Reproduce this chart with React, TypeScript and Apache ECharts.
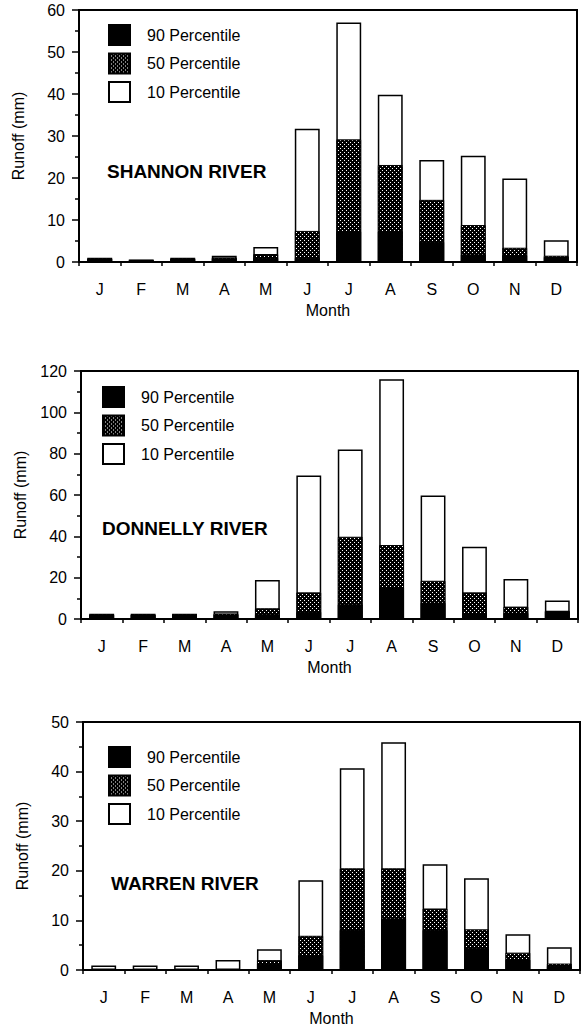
import React, { useEffect, useRef } from "react";
import * as echarts from "echarts";

const months = ["J", "F", "M", "A", "M", "J", "J", "A", "S", "O", "N", "D"];
const legendNames = ["90 Percentile", "50 Percentile", "10 Percentile"];

// Shannon River
const shannonP10 = [1.0, 0.6, 1.0, 1.5, 3.6, 31.7, 57.0, 39.8, 24.3, 25.3, 19.9, 5.2];
const shannonP50 = [0.9, 0.5, 0.9, 1.1, 1.9, 7.4, 29.2, 23.1, 14.8, 8.8, 3.4, 1.5];
const shannonP90 = [0.8, 0.45, 0.8, 0.9, 1.0, 1.0, 7.3, 7.3, 4.8, 1.8, 1.6, 1.2];

// Donnelly River
const donnellyP10 = [2.5, 2.5, 2.5, 3.8, 18.9, 69.4, 82.0, 116.0, 59.7, 35.0, 19.4, 8.9];
const donnellyP50 = [2.3, 2.3, 2.3, 2.7, 5.2, 12.9, 39.8, 35.8, 18.5, 12.9, 6.0, 4.0];
const donnellyP90 = [2.1, 2.1, 2.1, 2.2, 2.3, 3.5, 7.1, 15.3, 7.9, 2.7, 3.0, 3.8];

// Warren River
const warrenP10 = [0.9, 0.9, 0.9, 2.0, 4.2, 18.1, 40.7, 45.9, 21.3, 18.5, 7.2, 4.6];
const warrenP50 = [0.2, 0.2, 0.2, 0.2, 2.0, 6.9, 20.5, 20.5, 12.4, 8.2, 3.5, 1.3];
const warrenP90 = [0.1, 0.1, 0.1, 0.1, 1.3, 3.0, 8.1, 10.4, 8.1, 4.4, 2.1, 0.8];

const FONT = '"Liberation Sans", Arial, Helvetica, sans-serif';

function makePattern(): HTMLCanvasElement {
  const c = document.createElement("canvas");
  c.width = 4;
  c.height = 4;
  const ctx = c.getContext("2d")!;
  ctx.fillStyle = "#000";
  ctx.fillRect(0, 0, 4, 4);
  ctx.fillStyle = "#fff";
  ctx.fillRect(0, 0, 1, 1);
  ctx.fillRect(2, 2, 1, 1);
  return c;
}

export default function App() {
  const ref = useRef<HTMLDivElement>(null);

  useEffect(() => {
    if (!ref.current) return;
    const chart = echarts.init(ref.current, undefined, { renderer: "svg" });
    const pattern = { image: makePattern(), repeat: "repeat" };

    const panels = [
      { title: "SHANNON RIVER", p10: shannonP10, p50: shannonP50, p90: shannonP90, max: 60, interval: 10,
        grid: { left: 79, top: 10, width: 498, height: 252 }, legend: { left: 108, top: 24 }, titlePos: [107, 173] },
      { title: "DONNELLY RIVER", p10: donnellyP10, p50: donnellyP50, p90: donnellyP90, max: 120, interval: 20,
        grid: { left: 81, top: 371, width: 497, height: 248 }, legend: { left: 102, top: 386 }, titlePos: [102, 530] },
      { title: "WARREN RIVER", p10: warrenP10, p50: warrenP50, p90: warrenP90, max: 50, interval: 10,
        grid: { left: 83, top: 722, width: 497, height: 248 }, legend: { left: 108, top: 746 }, titlePos: [111, 885] },
    ];

    const grids: any[] = [];
    const xAxes: any[] = [];
    const yAxes: any[] = [];
    const series: any[] = [];
    const legends: any[] = [];
    const graphics: any[] = [];

    panels.forEach((p, i) => {
      grids.push({ ...p.grid, show: true, borderColor: "#000", borderWidth: 2, backgroundColor: "transparent" });
      xAxes.push({
        type: "category",
        gridIndex: i,
        data: months,
        name: "Month",
        nameLocation: "middle",
        nameGap: 40,
        nameTextStyle: { fontSize: 16, color: "#000", fontFamily: FONT },
        axisLine: { lineStyle: { color: "#000", width: 2 } },
        axisTick: { show: true, length: 4, lineStyle: { color: "#000", width: 1.5 } },
        axisLabel: { fontSize: 16, color: "#000", margin: 19, fontFamily: FONT, interval: 0 },
        splitLine: { show: false },
      });
      yAxes.push({
        type: "value",
        gridIndex: i,
        min: 0,
        max: p.max,
        interval: p.interval,
        name: "Runoff (mm)",
        nameLocation: "middle",
        nameGap: 53,
        nameTextStyle: { fontSize: 16, color: "#000", fontFamily: FONT },
        axisLine: { show: true, lineStyle: { color: "#000", width: 2 } },
        axisTick: { show: true, length: 7, lineStyle: { color: "#000", width: 1.5 } },
        minorTick: { show: true, splitNumber: 2, length: 4, lineStyle: { color: "#000", width: 1.5 } },
        axisLabel: { fontSize: 16, color: "#000", margin: 14, fontFamily: FONT },
        splitLine: { show: false },
        minorSplitLine: { show: false },
      });
      const common = { type: "bar", xAxisIndex: i, yAxisIndex: i, barWidth: "60%", barGap: "-100%" };
      series.push({
        ...common,
        name: "10 Percentile",
        data: p.p10,
        itemStyle: { color: "#fff", borderColor: "#000", borderWidth: 1.5 },
      });
      series.push({
        ...common,
        name: "50 Percentile",
        data: p.p50,
        itemStyle: { color: pattern, borderColor: "#000", borderWidth: 1 },
      });
      series.push({
        ...common,
        name: "90 Percentile",
        data: p.p90,
        itemStyle: { color: "#000", borderColor: "#000", borderWidth: 1 },
      });
      legends.push({
        data: legendNames,
        orient: "vertical",
        left: p.legend.left,
        top: p.legend.top,
        icon: "rect",
        itemWidth: 21,
        itemHeight: 20,
        itemGap: 6.5,
        padding: 0,
        selectedMode: false,
        textStyle: { fontSize: 16, color: "#000", fontFamily: FONT, padding: [0, 0, 0, 12] },
      });
      graphics.push({
        type: "text",
        left: p.titlePos[0],
        top: p.titlePos[1] - 11,
        style: { text: p.title, font: `bold 19px ${FONT}`, fill: "#000" },
      });
    });

    chart.setOption({
      animation: false,
      backgroundColor: "#fff",
      textStyle: { fontFamily: FONT },
      grid: grids,
      xAxis: xAxes,
      yAxis: yAxes,
      series,
      legend: legends,
      graphic: graphics,
    });

    return () => chart.dispose();
  }, []);

  return (
    <div
      ref={ref}
      style={{ position: "absolute", left: 0, top: 0, width: 581, height: 1029 }}
    />
  );
}
